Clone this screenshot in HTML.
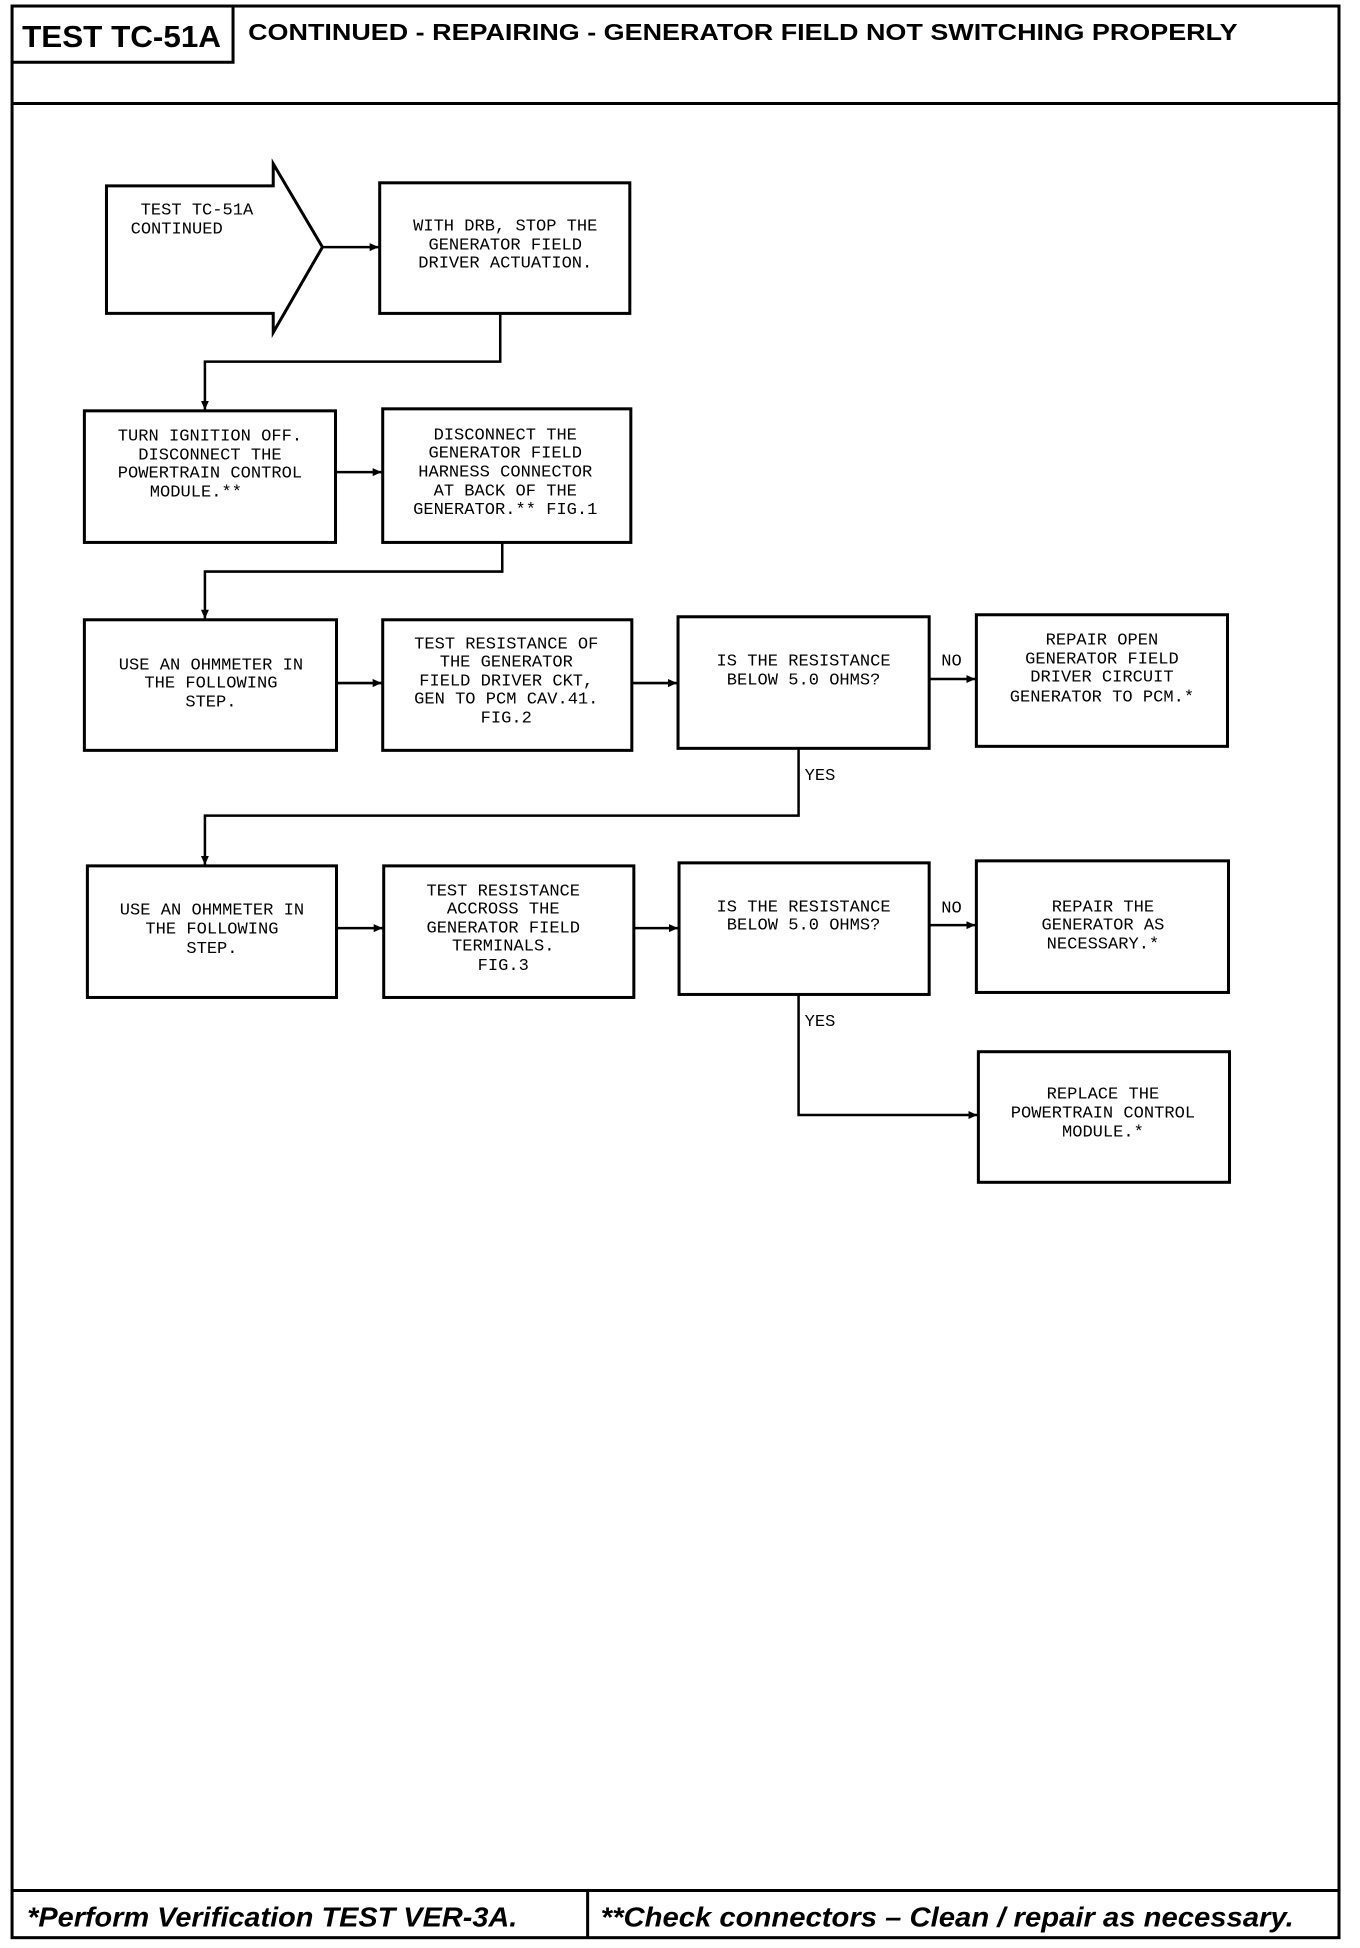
<!DOCTYPE html>
<html><head><meta charset="utf-8"><style>
html,body{margin:0;padding:0;background:#fff;}
svg{display:block;}
.t{font-family:"Liberation Mono",monospace;font-size:17px;fill:#000;}
.h{font-family:"Liberation Sans",sans-serif;font-weight:bold;fill:#000;}
</style></head><body>
<svg width="1360" height="1948" viewBox="0 0 1360 1948" xmlns="http://www.w3.org/2000/svg">
<defs><marker id="a" markerWidth="10" markerHeight="10" refX="9" refY="5" orient="auto" markerUnits="userSpaceOnUse"><path d="M0,1 L9,5 L0,9 z" fill="#000"/></marker></defs>
<g transform="scale(1.0045)">
<g fill="none" stroke="#000" stroke-width="3">
<rect x="12" y="6" width="1321" height="1923"/>
<path d="M12,62 H232 V6"/>
<line x1="12" y1="103" x2="1333" y2="103"/>
<line x1="12" y1="1882" x2="1333" y2="1882"/>
<line x1="585" y1="1882" x2="585" y2="1929"/>
<path d="M106,185 H272 V163 L321,246 L272,331 V312 H106 Z"/>
<rect x="378" y="182" width="249" height="130"/>
<rect x="84" y="409" width="250" height="131"/>
<rect x="381" y="407" width="247" height="133"/>
<rect x="84" y="617" width="251" height="130"/>
<rect x="381" y="617" width="248" height="130"/>
<rect x="675" y="614" width="250" height="131"/>
<rect x="972" y="612" width="250" height="131"/>
<rect x="87" y="862" width="248" height="131"/>
<rect x="382" y="862" width="249" height="131"/>
<rect x="676" y="859" width="249" height="131"/>
<rect x="972" y="857" width="251" height="131"/>
<rect x="974" y="1047" width="250" height="130"/>
</g>
<g fill="none" stroke="#000" stroke-width="2.5" marker-end="url(#a)">
<line x1="321" y1="246" x2="377" y2="246"/>
<path d="M498,312 V360 H204 V408"/>
<line x1="334" y1="470" x2="380" y2="470"/>
<path d="M500,540 V569 H204 V616"/>
<line x1="335" y1="680" x2="380" y2="680"/>
<line x1="629" y1="680" x2="674" y2="680"/>
<line x1="925" y1="676" x2="971" y2="676"/>
<path d="M795,745 V812 H204 V861"/>
<line x1="335" y1="924" x2="381" y2="924"/>
<line x1="631" y1="924" x2="675" y2="924"/>
<line x1="925" y1="921" x2="971" y2="921"/>
<path d="M795,990 V1110 H973"/>
</g>
<text class="h" x="22" y="47" font-size="30" textLength="198" lengthAdjust="spacingAndGlyphs">TEST TC-51A</text>
<text class="h" x="247" y="40" font-size="23" textLength="985" lengthAdjust="spacingAndGlyphs">CONTINUED -  REPAIRING - GENERATOR FIELD NOT SWITCHING PROPERLY</text>
<text class="h" x="27" y="1918" font-size="28" font-style="italic" textLength="488" lengthAdjust="spacingAndGlyphs">*Perform Verification TEST VER-3A.</text>
<text class="h" x="598" y="1918" font-size="28" font-style="italic" textLength="690" lengthAdjust="spacingAndGlyphs">**Check connectors – Clean / repair as necessary.</text>
<g class="t" dominant-baseline="central">
<text x="140" y="210">TEST TC-51A</text>
<text x="130" y="229">CONTINUED</text>
<text x="937" y="659">NO</text>
<text x="801" y="773">YES</text>
<text x="937" y="905">NO</text>
<text x="801" y="1018">YES</text>
</g>
<g class="t" text-anchor="middle" dominant-baseline="central">
<text x="503" y="226">WITH DRB, STOP THE</text><text x="503" y="245">GENERATOR FIELD</text><text x="503" y="263">DRIVER ACTUATION.</text>
<text x="209" y="435">TURN IGNITION OFF.</text><text x="209" y="454">DISCONNECT THE</text><text x="209" y="472">POWERTRAIN CONTROL</text><text x="195" y="491">MODULE.**</text>
<text x="503" y="434">DISCONNECT THE</text><text x="503" y="452">GENERATOR FIELD</text><text x="503" y="471">HARNESS CONNECTOR</text><text x="503" y="490">AT BACK OF THE</text><text x="503" y="508">GENERATOR.** FIG.1</text>
<text x="210" y="663">USE AN OHMMETER IN</text><text x="210" y="681">THE FOLLOWING</text><text x="210" y="700">STEP.</text>
<text x="504" y="642">TEST RESISTANCE OF</text><text x="504" y="660">THE GENERATOR</text><text x="504" y="679">FIELD DRIVER CKT,</text><text x="504" y="697">GEN TO PCM CAV.41.</text><text x="504" y="716">FIG.2</text>
<text x="800" y="659">IS THE RESISTANCE</text><text x="800" y="678">BELOW 5.0 OHMS?</text>
<text x="1097" y="638">REPAIR OPEN</text><text x="1097" y="657">GENERATOR FIELD</text><text x="1097" y="675">DRIVER CIRCUIT</text><text x="1097" y="695">GENERATOR TO PCM.*</text>
<text x="211" y="907">USE AN OHMMETER IN</text><text x="211" y="926">THE FOLLOWING</text><text x="211" y="945">STEP.</text>
<text x="501" y="888">TEST RESISTANCE</text><text x="501" y="906">ACCROSS THE</text><text x="501" y="925">GENERATOR FIELD</text><text x="501" y="943">TERMINALS.</text><text x="501" y="962">FIG.3</text>
<text x="800" y="904">IS THE RESISTANCE</text><text x="800" y="922">BELOW 5.0 OHMS?</text>
<text x="1098" y="904">REPAIR THE</text><text x="1098" y="922">GENERATOR AS</text><text x="1098" y="941">NECESSARY.*</text>
<text x="1098" y="1090">REPLACE THE</text><text x="1098" y="1109">POWERTRAIN CONTROL</text><text x="1098" y="1128">MODULE.*</text>
</g>
</g>
</svg>
</body></html>
